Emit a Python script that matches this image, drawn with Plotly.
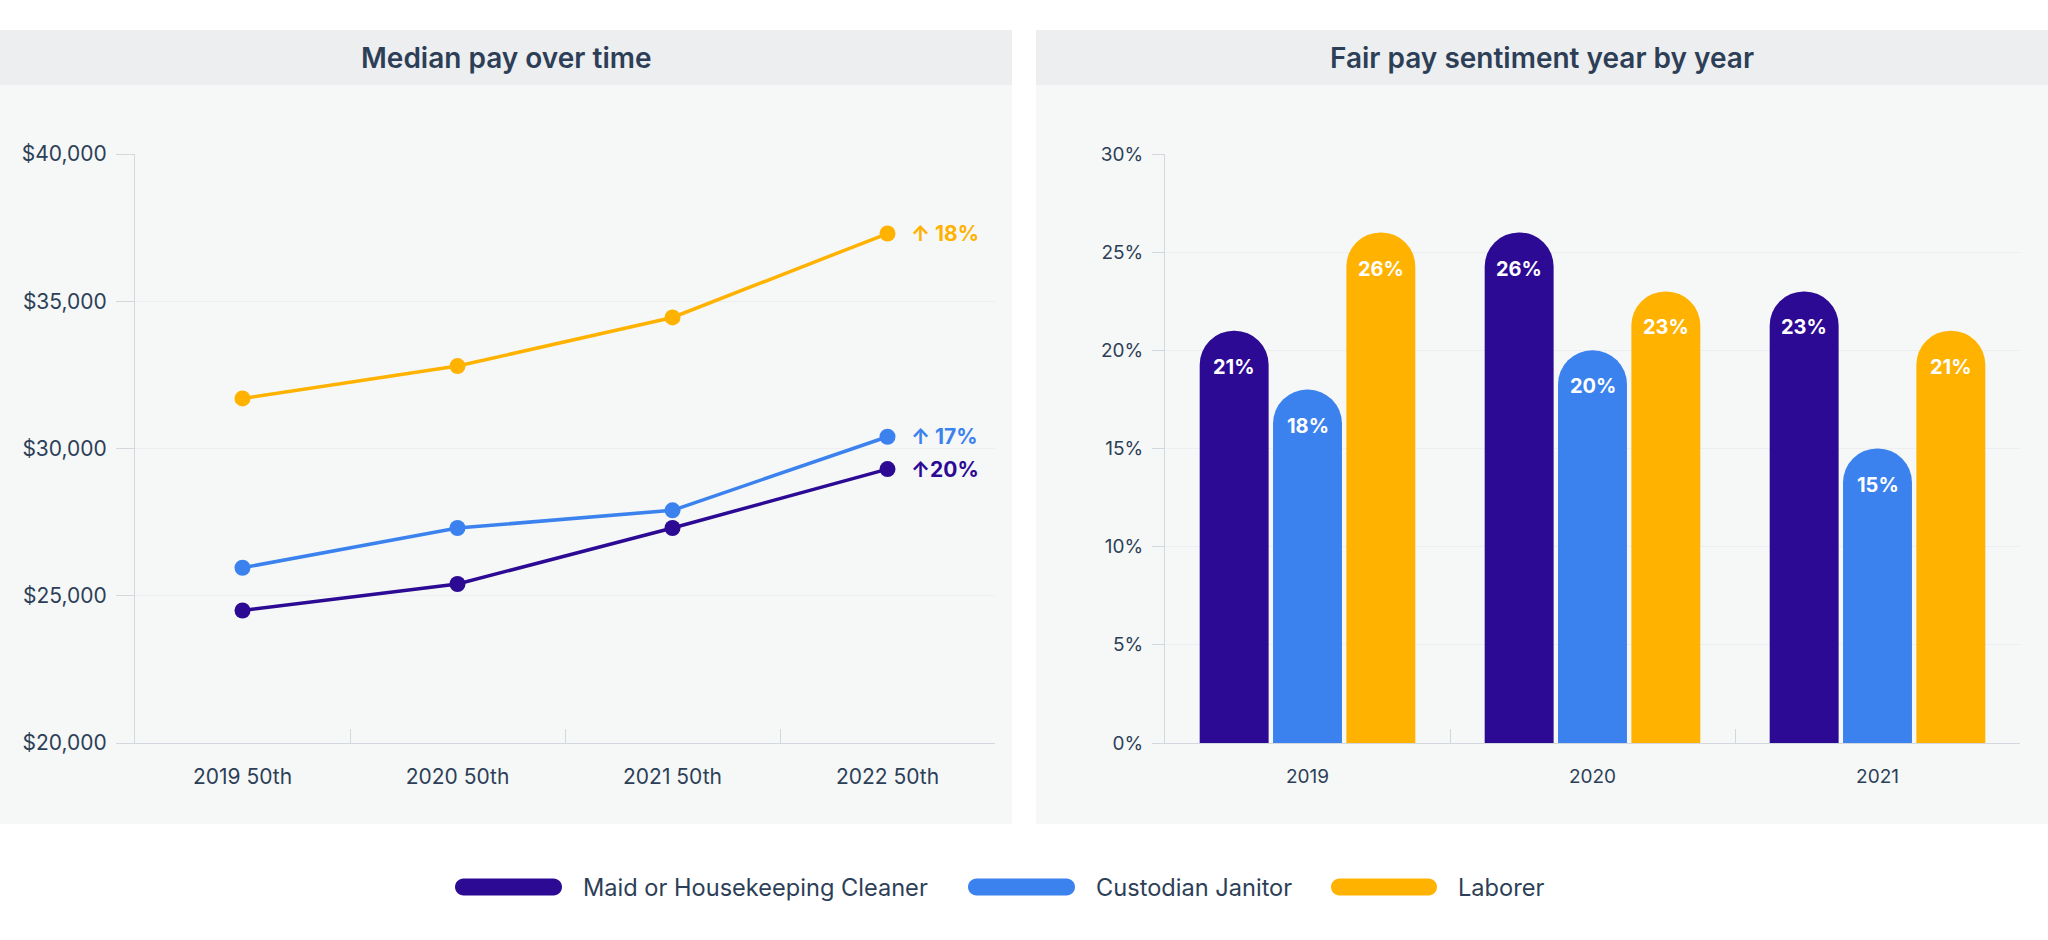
import plotly.graph_objects as go

W, H = 2048, 940

# ---------------- data ----------------
series_names = ["Maid or Housekeeping Cleaner", "Custodian Janitor", "Laborer"]
series_colors = ["#2c0a94", "#3b82ee", "#ffb200"]

pay_categories = ["2019 50th", "2020 50th", "2021 50th", "2022 50th"]
pay_maid = [24500, 25400, 27300, 29300]
pay_custodian = [25950, 27300, 27900, 30400]
pay_laborer = [31700, 32800, 34450, 37300]
pay_change_labels = ["↑20%", "↑ 17%", "↑ 18%"]

sent_years = ["2019", "2020", "2021"]
sent_maid = [21, 26, 23]
sent_custodian = [18, 20, 15]
sent_laborer = [26, 23, 21]

pay_tickvals = [20000, 25000, 30000, 35000, 40000]
sent_tickvals = [0, 5, 10, 15, 20, 25, 30]

# ---------------- styling ----------------
FONT = "Inter"
TEXT = "#2d3f57"
AXIS = "#d3d8df"
GRID = "#eceeef"
HEADER_BG = "#edeef0"
BODY_BG = "#f6f8f8"
BARGAP = 0.228
BARGROUPGAP = 0.06

X1_DOM_PX = (135, 995)
X2_DOM_PX = (1165, 2020)


def px_x(p):
    return p / W


def px_y(p):
    return 1 - p / H


fig = go.Figure()

annotations = []

pay_series = [pay_maid, pay_custodian, pay_laborer]
for name, color, vals, lab in zip(series_names, series_colors, pay_series, pay_change_labels):
    fig.add_trace(go.Scatter(
        x=pay_categories, y=vals, mode="lines+markers", name=name,
        line=dict(color=color, width=3.5), marker=dict(size=16, color=color),
        xaxis="x", yaxis="y", showlegend=False, hoverinfo="skip",
    ))
    annotations.append(dict(
        x=len(pay_categories) - 1, y=vals[-1], xref="x", yref="y",
        text=f"<b>{lab}</b>", showarrow=False, xanchor="left", yanchor="middle",
        xshift=21, font=dict(family=FONT, size=21, color=color),
    ))

# grouped bar label offsets (pixel offset of each series' slot from the category centre)
cat_w = (X2_DOM_PX[1] - X2_DOM_PX[0]) / len(sent_years)
slot = cat_w * (1 - BARGAP) / 3

sent_series = [sent_maid, sent_custodian, sent_laborer]
for i, (name, color, vals) in enumerate(zip(series_names, series_colors, sent_series)):
    fig.add_trace(go.Bar(
        x=sent_years, y=vals, name=name,
        marker=dict(color=color, cornerradius="50%", line=dict(width=0)),
        xaxis="x2", yaxis="y2", showlegend=False, hoverinfo="skip",
    ))
    for j, v in enumerate(vals):
        annotations.append(dict(
            x=j, y=v, xref="x2", yref="y2", text=f"<b>{v}%</b>", showarrow=False,
            xanchor="center", yanchor="middle", xshift=round((i - 1) * slot, 1), yshift=-36,
            font=dict(family=FONT, size=20, color="#ffffff"),
        ))

# panel backgrounds
shapes = []
panels = [(0, 1012), (1036, 2048)]
for x0, x1 in panels:
    shapes.append(dict(type="rect", xref="paper", yref="paper", x0=px_x(x0), x1=px_x(x1),
                       y0=px_y(824), y1=px_y(85), fillcolor=BODY_BG, line=dict(width=0), layer="below"))
    shapes.append(dict(type="rect", xref="paper", yref="paper", x0=px_x(x0), x1=px_x(x1),
                       y0=px_y(85), y1=px_y(30), fillcolor=HEADER_BG, line=dict(width=0), layer="below"))

titles = [("Median pay over time", 506), ("Fair pay sentiment year by year", 1542)]
for t, cx in titles:
    annotations.append(dict(xref="paper", yref="paper", x=px_x(cx), y=px_y(58), text=t, showarrow=False,
                            xanchor="center", yanchor="middle",
                            font=dict(family=FONT, size=28, color=TEXT, weight=600)))

# manual legend with pill symbols
legend_items = [(455, 562, 581), (968, 1075, 1094), (1331, 1437, 1456)]
cy = 887
hh = 8.5
k = 0.5523
for (x0, x1, tx), name, color in zip(legend_items, series_names, series_colors):
    r = hh

    def P(px, py):
        return f"{px_x(px):.6f},{px_y(py):.6f}"
    path = (f"M {P(x0 + r, cy - hh)} L {P(x1 - r, cy - hh)} "
            f"C {P(x1 - r + k * r, cy - hh)} {P(x1, cy - k * r)} {P(x1, cy)} "
            f"C {P(x1, cy + k * r)} {P(x1 - r + k * r, cy + hh)} {P(x1 - r, cy + hh)} "
            f"L {P(x0 + r, cy + hh)} "
            f"C {P(x0 + r - k * r, cy + hh)} {P(x0, cy + k * r)} {P(x0, cy)} "
            f"C {P(x0, cy - k * r)} {P(x0 + r - k * r, cy - hh)} {P(x0 + r, cy - hh)} Z")
    shapes.append(dict(type="path", xref="paper", yref="paper", path=path,
                       fillcolor=color, line=dict(width=0)))
    annotations.append(dict(xref="paper", yref="paper", x=px_x(tx), y=px_y(cy), text=name,
                            showarrow=False, xanchor="left", yanchor="middle",
                            font=dict(family=FONT, size=23.6, color=TEXT)))

ydom = [px_y(743), px_y(154)]

pay_ticktext = ["${:,}".format(v) for v in pay_tickvals]
sent_ticktext = ["{}%".format(v) for v in sent_tickvals]

fig.update_layout(
    template="none",
    width=W, height=H, margin=dict(l=0, r=0, t=0, b=0, pad=0, autoexpand=False),
    autosize=False,
    paper_bgcolor="white", plot_bgcolor="rgba(0,0,0,0)",
    font=dict(family=FONT, color=TEXT),
    barmode="group", bargap=BARGAP, bargroupgap=BARGROUPGAP,
    shapes=shapes, annotations=annotations, showlegend=False,
    xaxis=dict(domain=[px_x(X1_DOM_PX[0]), px_x(X1_DOM_PX[1])], type="category",
               range=[-0.5, len(pay_categories) - 0.5], tickson="boundaries",
               ticks="inside", ticklen=14, tickcolor=AXIS, tickwidth=1,
               showline=True, linecolor=AXIS, linewidth=1, showgrid=False, zeroline=False,
               tickfont=dict(family=FONT, size=21, color=TEXT), ticklabelstandoff=15,
               anchor="y", fixedrange=True, automargin=False),
    yaxis=dict(domain=ydom, range=[20000, 40000], tickmode="array", tickvals=pay_tickvals,
               ticktext=pay_ticktext, ticks="outside", ticklen=18, tickcolor=AXIS,
               showline=True, linecolor=AXIS, linewidth=1, showgrid=True, gridcolor=GRID,
               zeroline=False, tickfont=dict(family=FONT, size=21, color=TEXT),
               ticklabelstandoff=5, anchor="x", fixedrange=True, automargin=False),
    xaxis2=dict(domain=[px_x(X2_DOM_PX[0]), px_x(X2_DOM_PX[1])], type="category",
                range=[-0.5, len(sent_years) - 0.5], tickson="boundaries",
                ticks="inside", ticklen=14, tickcolor=AXIS, tickwidth=1,
                showline=True, linecolor=AXIS, linewidth=1, showgrid=False, zeroline=False,
                tickfont=dict(family=FONT, size=19, color=TEXT), ticklabelstandoff=16,
                anchor="y2", fixedrange=True, automargin=False),
    yaxis2=dict(domain=ydom, range=[0, 30], tickmode="array", tickvals=sent_tickvals,
                ticktext=sent_ticktext, ticks="outside", ticklen=12, tickcolor=AXIS,
                showline=True, linecolor=AXIS, linewidth=1, showgrid=True, gridcolor=GRID,
                zeroline=False, tickfont=dict(family=FONT, size=19, color=TEXT),
                ticklabelstandoff=5, anchor="x2", fixedrange=True, automargin=False),
)

fig.write_html("out.html", config={"displayModeBar": False},
               post_script="document.body.style.margin='0px';document.body.style.overflow='hidden';")
